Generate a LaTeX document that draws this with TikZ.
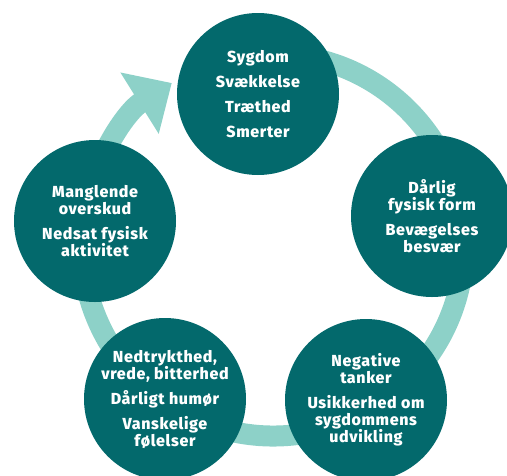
\documentclass[tikz,border=0pt]{standalone}
\usepackage{fontspec}
\setmainfont{Fira Sans}[BoldFont={Fira Sans ExtraBold}, BoldFeatures={LetterSpace=4}]
\usetikzlibrary{arrows.meta}
\definecolor{sickteal}{HTML}{03696C}
\definecolor{ringteal}{HTML}{8DD1C8}

\begin{document}
\begin{tikzpicture}[
        x=1pt, y=-1pt,
        >={Triangle[length=38pt, width=70pt]},
        factor/.style={circle, fill=sickteal, minimum size=162pt, inner sep=0pt,
            align=center, text=white, font=\fontsize{16}{17}\selectfont\bfseries},
        ring/.style={draw=ringteal, line width=21pt}
    ]
    \useasboundingbox (0,0) rectangle (507,475);
    \clip (0,0) rectangle (507,475);
    \coordinate (C) at (273,245);

    % ring with arrow into the top circle
    \draw[ring, ->] ([shift={(-80:191)}]C) arc[start angle=-80, end angle=238, radius=191];

    % circles
    \node[factor] (F1) at (258,94) {Sygdom\\[8pt]Svækkelse\\[8pt]Træthed\\[8pt]Smerter};
    \node[factor] (F2) at (432,216) {Dårlig\\fysisk form\\[8pt]Bevægelses\\besvær};
    \node[factor] (F3) at (366,400) {Negative\\tanker\\[8pt]Usikkerhed om\\sygdommens\\udvikling};
    \node[factor] (F4) at (165,399) {Nedtrykthed,\\vrede, bitterhed\\[8pt]Dårligt humør\\[8pt]Vanskelige\\følelser};
    \node[factor] (F5) at (95,221) {Manglende\\overskud\\[8pt]Nedsat fysisk\\aktivitet};
\end{tikzpicture}
\end{document}
